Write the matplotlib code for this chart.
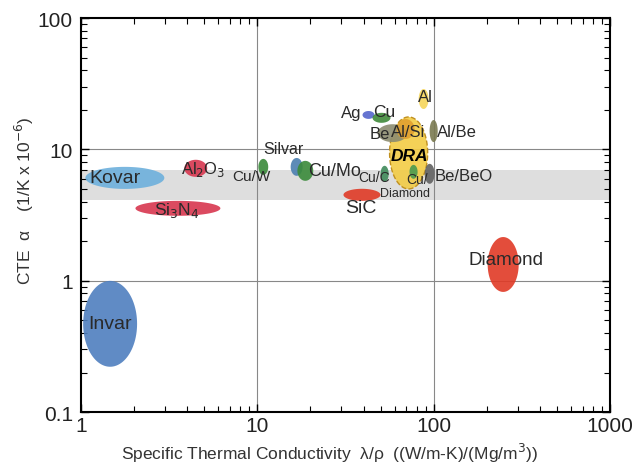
import numpy as np
import matplotlib.pyplot as plt

plt.rcParams['font.family'] = ['Liberation Sans', 'DejaVu Sans']

# material regions: centre (x, y) and half-size in decades (log10)
names = ['DRA', 'Invar', 'Kovar', 'Al2O3', 'Si3N4', 'Diamond', 'SiC', 'Al', 'Ag', 'Cu',
         'Be', 'Al/Si', 'Al/Be', 'Cu/C', 'Cu/Diamond', 'Be/BeO', 'Silvar', 'Cu/Mo', 'Cu/W']
cx = [72.1, 1.46, 1.77, 4.47, 3.54, 248, 39.2, 87.7, 42.7, 50.6,
      58.5, 69.3, 100, 52.7, 76.9, 94.9, 16.7, 18.7, 10.8]
cy = [9.40, 0.47, 6.07, 7.18, 3.56, 1.33, 4.51, 24.2, 18.3, 17.4,
      13.3, 14.3, 13.8, 6.52, 6.75, 6.52, 7.36, 6.87, 7.36]
half_w = [0.108, 0.153, 0.224, 0.065, 0.241, 0.088, 0.105, 0.028, 0.034, 0.051,
          0.085, 0.051, 0.023, 0.023, 0.023, 0.028, 0.034, 0.045, 0.028]
half_h = [0.274, 0.327, 0.084, 0.065, 0.057, 0.209, 0.046, 0.076, 0.030, 0.038,
          0.068, 0.076, 0.084, 0.061, 0.053, 0.076, 0.068, 0.076, 0.061]
colors = ['#f3cc45', '#4f7fbf', '#6db0dc', '#d8364f', '#d8364f', '#e03a26', '#e03a26',
          '#f5d55a', '#5566cc', '#3f8a3a', '#8c8c70', '#e0a030', '#7a7a50', '#3f8a5a',
          '#4a9a50', '#606060', '#4b7fb0', '#3a8a3a', '#3a8a3a']

# labels
lab_text = ['Invar', 'Kovar', 'Al$_2$O$_3$', 'Si$_3$N$_4$', 'Diamond', 'SiC', 'Al', 'Ag', 'Cu',
            'Be', 'Al/Si', 'Al/Be', 'Cu/C', 'Cu/', 'Diamond', 'Be/BeO', 'Silvar', 'Cu/Mo', 'Cu/W']
lab_x = [1.45, 1.56, 4.93, 3.47, 256, 38.5, 90.1, 34.2, 52.7,
         49.3, 72.0, 135, 46.0, 80, 68.4, 148, 14.1, 27.5, 9.25]
lab_y = [0.47, 6.07, 7.18, 3.47, 1.45, 3.59, 25.1, 19.0, 19.6,
         13.3, 13.6, 13.6, 6.18, 5.95, 4.62, 6.30, 10.1, 6.87, 6.29]
lab_size = [14, 14, 12, 12.5, 13.5, 14, 12, 12, 12.5,
            12, 12, 12, 10, 10, 9, 12, 11.5, 13, 11]

band = (4.1, 7.0)

fig = plt.figure(figsize=(6.34, 4.77), dpi=100)
ax = fig.add_axes([0.128, 0.134, 0.834, 0.826])
ax.set_xscale('log')
ax.set_yscale('log')
ax.set_xlim(1, 1000)
ax.set_ylim(0.1, 100)

ax.axhspan(band[0], band[1], color='#dedede', zorder=0, lw=0)
for v in [10, 100]:
    ax.axvline(v, color='#888888', lw=0.8, zorder=0.5)
for v in [1, 10]:
    ax.axhline(v, color='#888888', lw=0.8, zorder=0.5)

t = np.linspace(0, 2 * np.pi, 100)
for i, n in enumerate(names):
    xs = 10 ** (np.log10(cx[i]) + half_w[i] * np.cos(t))
    ys = 10 ** (np.log10(cy[i]) + half_h[i] * np.sin(t))
    if n == 'DRA':
        ax.fill(xs, ys, color=colors[i], alpha=0.9, zorder=1, lw=0)
        ax.plot(xs, ys, color='#c09020', ls='--', lw=1.0, zorder=1)
    else:
        ax.fill(xs, ys, color=colors[i], alpha=0.9, zorder=2, lw=0)

for i, s in enumerate(lab_text):
    ax.text(lab_x[i], lab_y[i], s, fontsize=lab_size[i], color='#2a2a2a',
            ha='center', va='center', zorder=3)
ax.text(73.1, 8.93, 'DRA', fontsize=12.5, fontweight='bold', fontstyle='italic',
        color='black', ha='center', va='center', zorder=3)

ax.set_xticks([1, 10, 100, 1000])
ax.set_xticklabels(['1', '10', '100', '1000'])
ax.set_yticks([0.1, 1, 10, 100])
ax.set_yticklabels(['0.1', '1', '10', '100'])
ax.tick_params(which='both', direction='in', top=True, right=True, labelsize=15,
               labelcolor='#222222', pad=6)
ax.tick_params(axis='x', which='major', pad=3)
ax.tick_params(which='major', length=6, width=1)
ax.tick_params(which='minor', length=4, width=0.8)
for sp in ax.spines.values():
    sp.set_linewidth(1.5)

ax.set_xlabel('Specific Thermal Conductivity  λ/ρ  ((W/m-K)/(Mg/m$^3$))',
              fontsize=12.5, color='#333333')
ax.xaxis.set_label_coords(0.47, -0.072)
ax.set_ylabel('CTE  α    (1/K x 10$^{-6}$)', fontsize=12.5, color='#333333')
ax.yaxis.set_label_coords(-0.085, 0.54)

fig.savefig('out.png', dpi=100)
